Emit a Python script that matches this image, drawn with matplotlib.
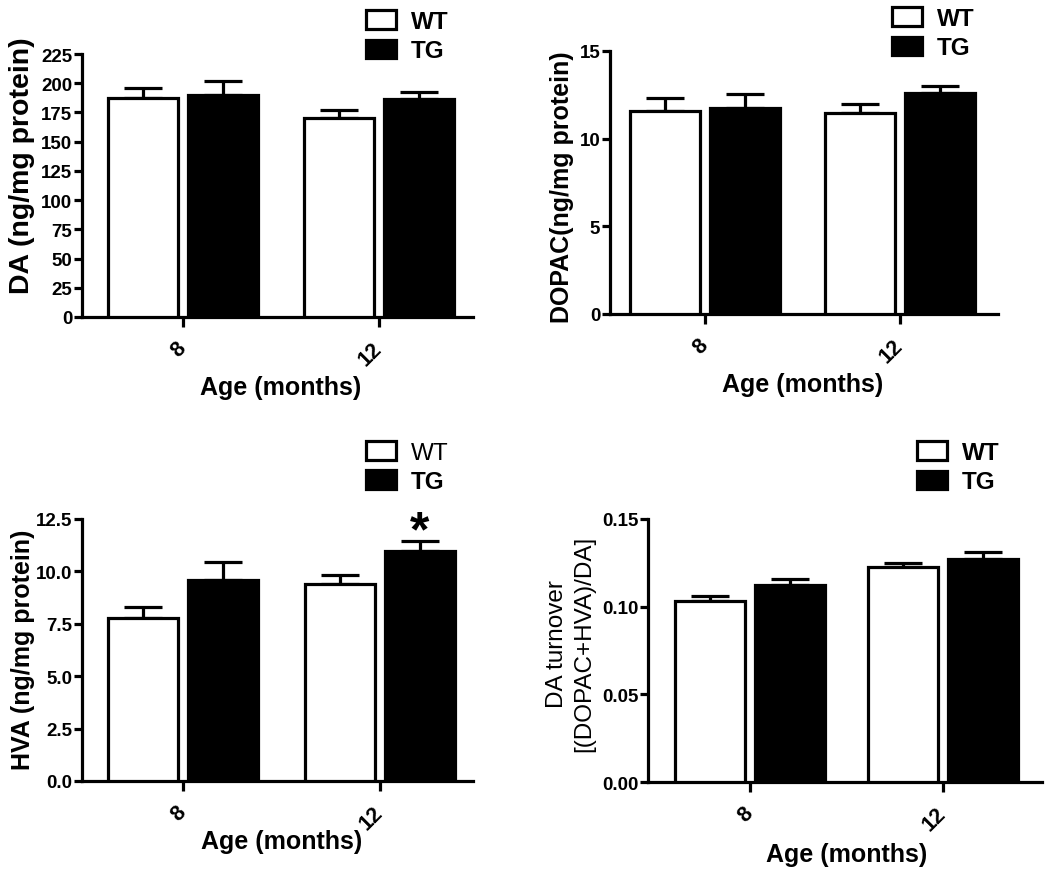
import matplotlib
matplotlib.use("Agg")
import matplotlib.pyplot as plt
from matplotlib.patches import Patch
import numpy as np

plt.rcParams['font.family'] = ['Liberation Sans', 'DejaVu Sans']
plt.rcParams['font.weight'] = 'bold'
plt.rcParams['axes.labelweight'] = 'bold'

# ---------------- data ----------------
ages = ['8', '12']
groups = ['WT', 'TG']

da_wt = [187.0, 170.0]
da_wt_sem = [9.0, 7.0]
da_tg = [189.5, 186.5]
da_tg_sem = [12.5, 6.0]

dopac_wt = [11.57, 11.46]
dopac_wt_sem = [0.75, 0.53]
dopac_tg = [11.76, 12.60]
dopac_tg_sem = [0.79, 0.40]

hva_wt = [7.77, 9.38]
hva_wt_sem = [0.54, 0.46]
hva_tg = [9.60, 10.99]
hva_tg_sem = [0.83, 0.44]

turn_wt = [0.1031, 0.1228]
turn_wt_sem = [0.0028, 0.0019]
turn_tg = [0.1124, 0.1272]
turn_tg_sem = [0.0036, 0.0042]

W, H = 1050, 878
fig = plt.figure(figsize=(W / 100, H / 100), dpi=100)

LW = 2.3


def make_panel(box, ticks_px, wt, wt_sem, tg, tg_sem, ylim, yticks, yfmt,
               ylabel, ylabel_size, ylabel_weight, ylabel_px, xlabel_px,
               legend_px, wt_legend_weight='bold', star=False):
    left, top, right, bottom = box
    ax = fig.add_axes([left / W, 1 - bottom / H, (right - left) / W, (bottom - top) / H])
    t8, t12 = ticks_px
    unit = t12 - t8
    x = np.arange(len(ages))
    width = 70 / unit
    off = 40 / unit

    ax.bar(x - off, wt, width, color='white', edgecolor='black', linewidth=LW, zorder=3)
    ax.bar(x + off, tg, width, color='black', edgecolor='black', linewidth=LW, zorder=3)
    ax.errorbar(x - off, wt, yerr=[np.zeros(len(wt)), wt_sem], fmt='none', ecolor='black',
                elinewidth=LW, capsize=14, capthick=LW, zorder=2)
    ax.errorbar(x + off, tg, yerr=[np.zeros(len(tg)), tg_sem], fmt='none', ecolor='black',
                elinewidth=LW, capsize=14, capthick=LW, zorder=2)

    ax.set_xlim((left - t8) / unit, (right - t8) / unit)
    ax.set_ylim(*ylim)
    ax.set_yticks(yticks)
    ax.set_yticklabels([yfmt.format(v) for v in yticks])
    ax.set_xticks(x)
    ax.set_xticklabels(ages, rotation=45, ha='right', va='center', rotation_mode='anchor')

    for s in ['top', 'right']:
        ax.spines[s].set_visible(False)
    for s in ['left', 'bottom']:
        ax.spines[s].set_linewidth(LW)
    ax.tick_params(axis='y', length=6, width=LW, pad=1, labelsize=13.5)
    ax.tick_params(axis='x', length=7, width=LW, pad=13, labelsize=15.5)

    ax.set_ylabel(ylabel, fontsize=ylabel_size, fontweight=ylabel_weight, linespacing=1.3)
    ax.yaxis.label.set_va('center')
    ax.yaxis.set_label_coords((ylabel_px[0] - left) / (right - left),
                              (bottom - ylabel_px[1]) / (bottom - top))
    ax.set_xlabel('Age (months)', fontsize=18)
    ax.xaxis.label.set_va('center')
    ax.xaxis.set_label_coords((xlabel_px[0] - left) / (right - left),
                              (bottom - xlabel_px[1]) / (bottom - top))

    handles = [Patch(facecolor='white', edgecolor='black', linewidth=LW),
               Patch(facecolor='black', edgecolor='black', linewidth=LW)]
    leg = ax.legend(handles, groups, loc='upper left',
                    bbox_to_anchor=(legend_px[0] / W, 1 - legend_px[1] / H),
                    bbox_transform=fig.transFigure, frameon=False, borderpad=0,
                    borderaxespad=0, handlelength=1.25, handleheight=0.8,
                    handletextpad=0.6, labelspacing=0.26,
                    prop={'size': 17.5, 'weight': 'bold'})
    leg.get_texts()[0].set_fontweight(wt_legend_weight)

    if star:
        ax.annotate('*', xy=(x[1] + off, tg[1] + tg_sem[1]), xytext=(0, -3),
                    textcoords='offset points', ha='center', va='baseline',
                    fontsize=36, fontweight='bold')
    return ax


make_panel((82, 55, 473, 318), (183, 379), da_wt, da_wt_sem, da_tg, da_tg_sem,
           (0, 225), list(range(0, 226, 25)), '{:d}',
           'DA (ng/mg protein)', 20.5, 'bold', (22, 166), (281, 388), (366, 11))

make_panel((610, 52, 998, 315), (705, 900), dopac_wt, dopac_wt_sem, dopac_tg, dopac_tg_sem,
           (0, 15), [0, 5, 10, 15], '{:d}',
           'DOPAC(ng/mg protein)', 18, 'bold', (562, 187), (803, 385), (892, 8))

make_panel((82, 520, 473, 782), (183, 380), hva_wt, hva_wt_sem, hva_tg, hva_tg_sem,
           (0, 12.5), [0.0, 2.5, 5.0, 7.5, 10.0, 12.5], '{:.1f}',
           'HVA (ng/mg protein)', 18, 'bold', (23, 650), (282, 842), (366, 442),
           wt_legend_weight='normal', star=True)

make_panel((648, 520, 1042, 783), (750, 943), turn_wt, turn_wt_sem, turn_tg, turn_tg_sem,
           (0, 0.15), [0.00, 0.05, 0.10, 0.15], '{:.2f}',
           'DA turnover\n[(DOPAC+HVA)/DA]', 17.5, 'normal', (571, 644), (847, 855), (917, 442))

fig.savefig('out.png', dpi=100)
